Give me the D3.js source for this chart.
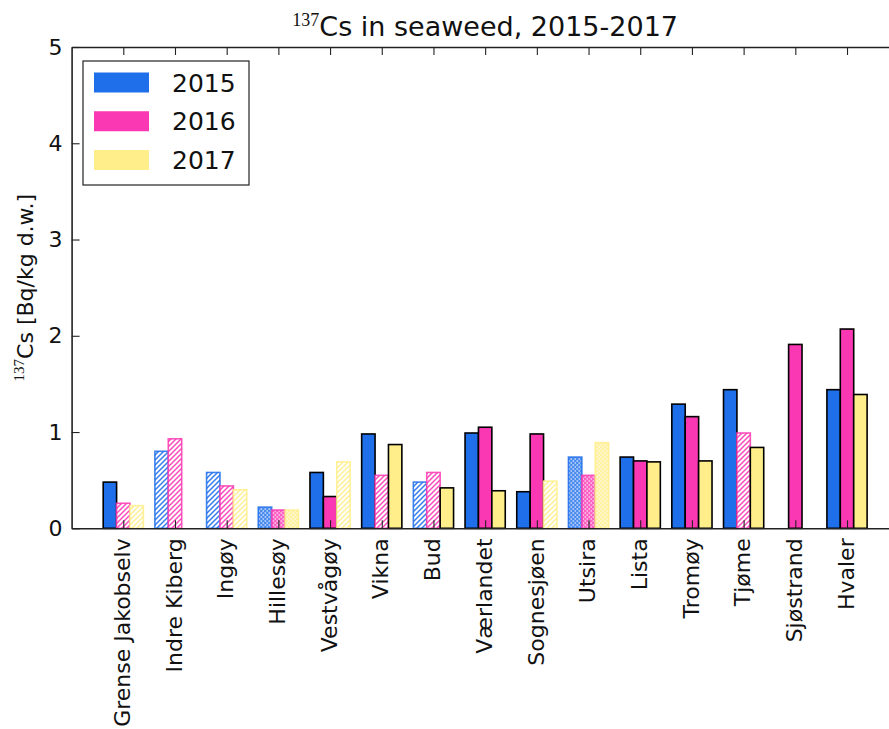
<!DOCTYPE html>
<html>
<head>
<meta charset="utf-8">
<script src="https://cdn.jsdelivr.net/npm/d3@7"></script>
<style>
  html, body { margin: 0; padding: 0; background: #fff; }
  svg { display: block; font-family: "DejaVu Sans", sans-serif; }
</style>
</head>
<body>
<svg id="chart" width="889" height="729"></svg>
<script>
// ---- data ----
const categories = ["Grense Jakobselv", "Indre Kiberg", "Ingøy", "Hillesøy", "Vestvågøy", "Vikna", "Bud",
  "Værlandet", "Sognesjøen", "Utsira", "Lista", "Tromøy", "Tjøme", "Sjøstrand", "Hvaler"];
const years = ["2015", "2016", "2017"];
const values2015 = [0.48, 0.80, 0.58, 0.22, 0.58, 0.98, 0.48, 0.99, 0.38, 0.74, 0.74, 1.29, 1.44, 0.00, 1.44];
const values2016 = [0.26, 0.93, 0.44, 0.19, 0.33, 0.55, 0.58, 1.05, 0.98, 0.55, 0.70, 1.16, 0.99, 1.91, 2.07];
const values2017 = [0.235, 0.00, 0.40, 0.19, 0.69, 0.87, 0.42, 0.39, 0.49, 0.89, 0.69, 0.70, 0.84, 0.00, 1.39];
// qualifier per value: "m" = measured, "<" = below detection limit, "~" = uncertain
const qual2015 = ["m", "<", "<", "~", "m", "m", "<", "m", "m", "~", "m", "m", "m", "<", "m"];
const qual2016 = ["<", "<", "<", "~", "m", "<", "<", "m", "m", "~", "m", "m", "<", "m", "m"];
const qual2017 = ["<", "m", "<", "~", "<", "m", "m", "m", "<", "~", "m", "m", "m", "<", "m"];
const yTicks = [0, 1, 2, 3, 4, 5];

const seriesValues = [values2015, values2016, values2017];
const seriesQual = [qual2015, qual2016, qual2017];
const colors = ["#1f6feb", "#fb38b3", "#ffee8a"];

// ---- layout ----
const svg = d3.select("#chart");
const L = 71.6, R = 898.7, T = 47, B = 528.3;

const x = d3.scalePoint().domain(categories).range([L, R]).padding(1);
const xs = d3.scaleBand().domain(years).range([-20.1, 20.1]).padding(0);
const y = d3.scaleLinear().domain([0, 5]).range([B, T]);
const color = d3.scaleOrdinal().domain(years).range(colors);

// patterns
const defs = svg.append("defs");
years.forEach((yr, i) => {
  const c = colors[i];
  const ph = defs.append("pattern").attr("id", "hatch" + yr)
    .attr("patternUnits", "userSpaceOnUse").attr("width", 5).attr("height", 5);
  ph.append("rect").attr("width", 5).attr("height", 5).attr("fill", "#fff");
  ph.append("path").attr("d", "M0,5 L5,0 M-1.5,1.5 L1.5,-1.5 M3.5,6.5 L6.5,3.5")
    .attr("stroke", c).attr("stroke-width", 1.5).attr("stroke-opacity", 0.9);
  const pd = defs.append("pattern").attr("id", "dots" + yr)
    .attr("patternUnits", "userSpaceOnUse").attr("width", 4).attr("height", 4);
  pd.append("rect").attr("width", 4).attr("height", 4).attr("fill", c).attr("fill-opacity", 0.8);
  pd.append("rect").attr("x", 0.5).attr("y", 0.5).attr("width", 1.6).attr("height", 1).attr("fill", "#fff");
  pd.append("rect").attr("x", 2.5).attr("y", 2.5).attr("width", 1.6).attr("height", 1).attr("fill", "#fff");
});

const clip = defs.append("clipPath").attr("id", "plotclip");
clip.append("rect").attr("x", L).attr("y", T - 2).attr("width", R - L).attr("height", B - T + 4);

// bars
const barData = [];
categories.forEach((cat, ci) => {
  years.forEach((yr, si) => {
    barData.push({ cat, yr, v: seriesValues[si][ci], q: seriesQual[si][ci] });
  });
});

const gBars = svg.append("g").attr("clip-path", "url(#plotclip)");
gBars.selectAll("rect.bar").data(barData).join("rect")
  .attr("class", "bar")
  .attr("x", d => x(d.cat) + xs(d.yr))
  .attr("width", xs.bandwidth())
  .attr("y", d => y(d.v))
  .attr("height", d => y(0) - y(d.v))
  .attr("fill", d => d.q === "m" ? color(d.yr) : (d.q === "<" ? "url(#hatch" + d.yr + ")" : "url(#dots" + d.yr + ")"))
  .attr("stroke", d => d.q === "m" ? "#000" : color(d.yr))
  .attr("stroke-opacity", d => d.q === "m" ? 1 : 0.85)
  .attr("stroke-width", 1.6);

// axes
function styleAxis(g) {
  g.select(".domain").attr("stroke", "#222").attr("stroke-width", 1.6);
  g.selectAll(".tick line").attr("stroke", "#222").attr("stroke-width", 1.1);
}

const xBottom = svg.append("g").attr("transform", `translate(0,${B})`)
  .call(d3.axisBottom(x).tickSize(-8).tickSizeOuter(0).tickPadding(0));
styleAxis(xBottom);
xBottom.selectAll(".tick text")
  .attr("transform", "translate(0,10) rotate(-90)")
  .attr("text-anchor", "end")
  .attr("x", 0).attr("y", 0).attr("dy", "0.28em")
  .attr("font-size", 22).attr("font-family", "DejaVu Sans").attr("fill", "#111");

const xTop = svg.append("g").attr("transform", `translate(0,${T})`)
  .call(d3.axisTop(x).tickSize(-8).tickSizeOuter(0).tickFormat(""));
styleAxis(xTop);

const yLeft = svg.append("g").attr("transform", `translate(${L},0)`)
  .call(d3.axisLeft(y).tickValues(yTicks).tickFormat(d3.format("d")).tickSize(-8).tickSizeOuter(0).tickPadding(9));
styleAxis(yLeft);
yLeft.selectAll(".tick text").attr("font-size", 22).attr("font-family", "DejaVu Sans").attr("fill", "#111");

const yRight = svg.append("g").attr("transform", `translate(${R},0)`)
  .call(d3.axisRight(y).tickValues(yTicks).tickSize(-8).tickSizeOuter(0).tickFormat(""));
styleAxis(yRight);

// title
const title = svg.append("text").attr("x", (L + R) / 2).attr("y", 36)
  .attr("text-anchor", "middle").attr("fill", "#111");
title.append("tspan").attr("font-family", "Liberation Serif").attr("font-size", 18).attr("dy", -10).text("137");
title.append("tspan").attr("font-family", "DejaVu Sans").attr("font-size", 27).attr("dy", 10).text("Cs in seaweed, 2015-2017");

// y label
const ylab = svg.append("text").attr("transform", `translate(33,${(T + B) / 2}) rotate(-90)`)
  .attr("text-anchor", "middle").attr("fill", "#111");
ylab.append("tspan").attr("font-family", "Liberation Serif").attr("font-size", 15).attr("dy", -9).text("137");
ylab.append("tspan").attr("font-family", "DejaVu Sans").attr("font-size", 22).attr("dy", 9).text("Cs [Bq/kg d.w.]");

// legend
const leg = svg.append("g");
leg.append("rect").attr("x", 83).attr("y", 61).attr("width", 166).attr("height", 124)
  .attr("fill", "#fff").attr("stroke", "#222").attr("stroke-width", 1.2);
const legY = d3.scalePoint().domain(years).range([82.5, 160]);
years.forEach(yr => {
  leg.append("rect").attr("x", 94).attr("y", legY(yr) - 10).attr("width", 55).attr("height", 20)
    .attr("fill", color(yr));
  leg.append("text").attr("x", 172).attr("y", legY(yr)).attr("dy", "0.36em")
    .attr("font-size", 25).attr("font-family", "DejaVu Sans").attr("fill", "#111").text(yr);
});
</script>
</body>
</html>
